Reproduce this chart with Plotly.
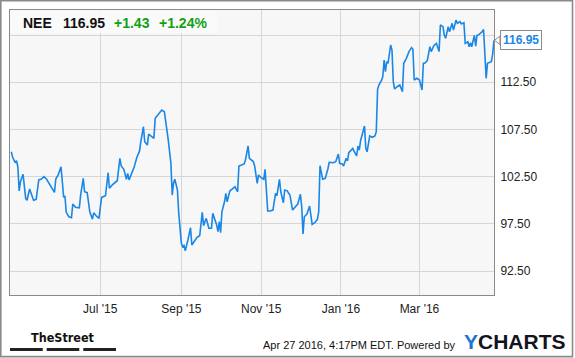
import plotly.graph_objects as go

# ---------------- data ----------------
dates = [
    "2015-04-24", "2015-04-25", "2015-04-27", "2015-04-28", "2015-04-29", "2015-04-30",
    "2015-05-01", "2015-05-03", "2015-05-05", "2015-05-06", "2015-05-08", "2015-05-10",
    "2015-05-11", "2015-05-13", "2015-05-15", "2015-05-17", "2015-05-19", "2015-05-21",
    "2015-05-23", "2015-05-26", "2015-05-27", "2015-05-28", "2015-05-30",
    "2015-06-01", "2015-06-03", "2015-06-04", "2015-06-05", "2015-06-07", "2015-06-09",
    "2015-06-10", "2015-06-12", "2015-06-15", "2015-06-16", "2015-06-18", "2015-06-19",
    "2015-06-21", "2015-06-23", "2015-06-25", "2015-06-26", "2015-06-28", "2015-06-30",
    "2015-07-02", "2015-07-03", "2015-07-05", "2015-07-07", "2015-07-08", "2015-07-10",
    "2015-07-12", "2015-07-14", "2015-07-16", "2015-07-17", "2015-07-19", "2015-07-21",
    "2015-07-22", "2015-07-23", "2015-07-25", "2015-07-27", "2015-07-29", "2015-07-31",
    "2015-08-01", "2015-08-03", "2015-08-04", "2015-08-06", "2015-08-07", "2015-08-09",
    "2015-08-11", "2015-08-12", "2015-08-14", "2015-08-16", "2015-08-17", "2015-08-19",
    "2015-08-20", "2015-08-22", "2015-08-24", "2015-08-25", "2015-08-26", "2015-08-27",
    "2015-08-29", "2015-08-30",
    "2015-09-01", "2015-09-02", "2015-09-03", "2015-09-04", "2015-09-06", "2015-09-08",
    "2015-09-09", "2015-09-10", "2015-09-12", "2015-09-13", "2015-09-15", "2015-09-17",
    "2015-09-18", "2015-09-19", "2015-09-20", "2015-09-22", "2015-09-24", "2015-09-25",
    "2015-09-27", "2015-09-28", "2015-09-29", "2015-09-30",
    "2015-10-01", "2015-10-02", "2015-10-04", "2015-10-05", "2015-10-06", "2015-10-08",
    "2015-10-10", "2015-10-12", "2015-10-14", "2015-10-15", "2015-10-17", "2015-10-19",
    "2015-10-20", "2015-10-22", "2015-10-23", "2015-10-25", "2015-10-26", "2015-10-27",
    "2015-10-29", "2015-10-30",
    "2015-11-01", "2015-11-03", "2015-11-04", "2015-11-06", "2015-11-08", "2015-11-10",
    "2015-11-12", "2015-11-13", "2015-11-15", "2015-11-16", "2015-11-18", "2015-11-19",
    "2015-11-21", "2015-11-22", "2015-11-23", "2015-11-25", "2015-11-27", "2015-11-29",
    "2015-12-01", "2015-12-02", "2015-12-03", "2015-12-04", "2015-12-06", "2015-12-08",
    "2015-12-09", "2015-12-10", "2015-12-12", "2015-12-14", "2015-12-15", "2015-12-16",
    "2015-12-18", "2015-12-20", "2015-12-22", "2015-12-23", "2015-12-26", "2015-12-28",
    "2015-12-30", "2015-12-31",
    "2016-01-02", "2016-01-03", "2016-01-05", "2016-01-06", "2016-01-07", "2016-01-09",
    "2016-01-10", "2016-01-11", "2016-01-13", "2016-01-14", "2016-01-15", "2016-01-16",
    "2016-01-19", "2016-01-20", "2016-01-21", "2016-01-23", "2016-01-25", "2016-01-27",
    "2016-01-28", "2016-01-29", "2016-01-30",
    "2016-02-01", "2016-02-02", "2016-02-03", "2016-02-04", "2016-02-05", "2016-02-06",
    "2016-02-08", "2016-02-09", "2016-02-10", "2016-02-11", "2016-02-13", "2016-02-15",
    "2016-02-17", "2016-02-18", "2016-02-20", "2016-02-22", "2016-02-24", "2016-02-25",
    "2016-02-26", "2016-02-28",
    "2016-03-01", "2016-03-03", "2016-03-04", "2016-03-05", "2016-03-07", "2016-03-09",
    "2016-03-10", "2016-03-12", "2016-03-14", "2016-03-16", "2016-03-17", "2016-03-19",
    "2016-03-20", "2016-03-21", "2016-03-23", "2016-03-24", "2016-03-26", "2016-03-27",
    "2016-03-29", "2016-03-30",
    "2016-04-01", "2016-04-02", "2016-04-04", "2016-04-05", "2016-04-07", "2016-04-08",
    "2016-04-09", "2016-04-10", "2016-04-12", "2016-04-13", "2016-04-14", "2016-04-15",
    "2016-04-18", "2016-04-19", "2016-04-20", "2016-04-21", "2016-04-22", "2016-04-24",
    "2016-04-25", "2016-04-26", "2016-04-27",
]

prices = [
    105.14, 104.55, 103.98, 104.19, 103.55, 100.98,
    101.96, 102.75, 100.20, 100.00, 101.20, 100.37,
    100.00, 100.10, 102.15, 102.25, 102.50, 102.22,
    101.80, 101.08, 100.84, 102.25, 102.75,
    103.55, 100.37, 100.40, 98.72, 98.25, 98.15,
    99.60, 99.25, 99.20, 100.55, 102.32, 100.90,
    100.80, 98.78, 98.00, 98.67, 98.33, 98.08,
    100.30, 100.37, 100.48, 102.92, 101.27, 101.60,
    101.86, 102.07, 104.45, 103.63, 103.28, 102.22,
    102.85, 102.15, 102.85, 103.55, 104.55, 105.20,
    106.20, 107.79, 106.20, 105.85, 107.00, 106.80,
    106.56, 108.68, 109.03, 109.35, 109.56, 109.38,
    108.50, 106.38, 103.91, 100.55, 101.80, 102.22,
    101.08, 98.61,
    95.43, 95.08, 95.20, 94.65, 95.79, 97.09,
    95.26, 95.43, 95.86, 96.07, 96.24, 98.72,
    97.30, 97.73, 98.08, 97.03, 97.03, 98.61,
    97.90, 97.38, 96.67, 97.73,
    96.56, 98.78, 99.84, 100.73, 99.84, 100.98,
    101.20, 101.43, 100.90, 103.63, 103.73, 103.84,
    104.26, 105.75, 104.45, 104.19, 104.10, 103.63,
    101.80, 102.68,
    102.39, 102.22, 103.28, 98.86, 98.86, 98.96,
    100.73, 100.45, 102.22, 100.90, 99.74, 101.08,
    101.00, 100.73, 100.55, 98.96, 99.31, 99.60,
    100.63, 99.31, 96.42, 98.25, 98.54, 99.39,
    98.43, 97.45, 97.62, 97.98, 98.78, 103.66,
    102.22, 102.32, 103.31, 104.02, 103.98, 104.08,
    104.90, 103.91,
    103.84, 103.63, 104.45, 104.16, 105.04, 105.43,
    105.50, 105.20, 104.69, 105.75, 105.32, 106.31,
    107.87, 105.50, 105.14, 106.81, 106.67, 106.81,
    107.26, 111.76, 112.21,
    112.70, 113.10, 114.86, 113.62, 114.68, 114.51,
    116.45, 115.92, 112.56, 111.79, 112.03, 112.21,
    111.50, 114.51, 115.04, 115.75, 116.17, 116.00,
    112.74, 112.92,
    112.74, 111.68, 114.51, 114.51, 114.79, 116.27,
    115.75, 116.38, 116.63, 115.75, 118.57, 118.39,
    117.51, 117.16, 118.39, 117.86, 118.75, 118.04,
    119.10, 118.75,
    118.92, 118.68, 118.82, 116.63, 116.80, 116.27,
    116.70, 116.27, 117.48, 116.34, 117.48, 117.51,
    117.86, 118.10, 115.57, 112.92, 114.51, 114.58,
    114.68, 115.52, 116.95,
]

ticker = "NEE"
last_price = "116.95"
change = "+1.43"
change_pct = "+1.24%"

y_tickvals = [92.5, 97.5, 102.5, 107.5, 112.5, 117.5]
y_ticktext = ["92.50", "97.50", "102.50", "107.50", "112.50", "117.50"]
x_tickvals = ["2015-07-01", "2015-09-01", "2015-11-01", "2016-01-01", "2016-03-01"]
x_ticktext = ["Jul '15", "Sep '15", "Nov '15", "Jan '16", "Mar '16"]

timestamp = "Apr 27 2016, 4:17PM EDT."

# ---------------- layout helpers (pixel -> paper) ----------------
W, H = 575, 358
PL, PR, PT, PB = 10, 494, 10, 295  # plot area in pixels


def px(x):
    return (x - PL) / (PR - PL)


def py(y):
    return (PB - y) / (PB - PT)


FONT = "Liberation Sans, Arial, Helvetica, sans-serif"
BLUE = "#1a87e6"
GREEN = "#14a014"

fig = go.Figure()
fig.add_trace(go.Scatter(
    x=dates, y=prices, mode="lines",
    line=dict(color=BLUE, width=1.6),
    hoverinfo="skip",
))

fig.update_layout(
    width=W, height=H,
    margin=dict(l=PL, r=W - PR, t=PT, b=H - PB),
    paper_bgcolor="white",
    plot_bgcolor="#f7f7f7",
    showlegend=False,
    font=dict(family=FONT, size=12, color="#222"),
    xaxis=dict(
        type="date",
        range=["2015-04-23", "2016-04-27"],
        tickvals=x_tickvals, ticktext=x_ticktext,
        showgrid=True, gridcolor="#d6d6d6", gridwidth=1,
        showline=True, linecolor="#8a8a8a", linewidth=1, mirror=True,
        ticks="outside", ticklen=3, tickcolor="rgba(0,0,0,0)",
        tickfont=dict(size=12, color="#222"),
        zeroline=False, fixedrange=True,
    ),
    yaxis=dict(
        side="right",
        range=[89.96, 120.16],
        tickvals=y_tickvals, ticktext=y_ticktext,
        showgrid=True, gridcolor="#d6d6d6", gridwidth=1,
        showline=True, linecolor="#8a8a8a", linewidth=1, mirror=True,
        ticks="outside", ticklen=3, tickcolor="rgba(0,0,0,0)",
        tickfont=dict(size=12, color="#222"),
        zeroline=False, fixedrange=True,
    ),
)

shapes = []
# header box
shapes.append(dict(type="rect", xref="paper", yref="paper",
                   x0=px(10.5), x1=px(217), y0=py(33), y1=py(10.5),
                   fillcolor="rgba(250,250,250,0.85)", line=dict(width=0), layer="above"))
# outer frame
shapes.append(dict(type="rect", xref="paper", yref="paper",
                   x0=px(0.8), x1=px(572.5), y0=py(356.6), y1=py(0.6),
                   line=dict(color="#8a8a8a", width=1.6), fillcolor="rgba(0,0,0,0)"))
# TheStreet bars
for a, b in [(10, 42.7), (46.7, 79.3), (83.3, 116)]:
    shapes.append(dict(type="rect", xref="paper", yref="paper",
                       x0=px(a), x1=px(b), y0=py(351), y1=py(348),
                       fillcolor="#222", line=dict(width=0)))
# pointer of last price callout
lp = prices[-1]
shapes.append(dict(type="path", xref="paper", yref="y",
                   path=f"M {px(494.5)},{lp} L {px(500)},{lp + 0.45} L {px(500)},{lp - 0.45} Z",
                   fillcolor="white", line=dict(color="#8a8a8a", width=1), layer="above"))
fig.update_layout(shapes=shapes)

ann = []
hy = py(23)
ann.append(dict(xref="paper", yref="paper", x=px(21), y=hy, xanchor="left", yanchor="middle",
                text=f"<b>{ticker}</b>", showarrow=False, font=dict(size=14, color="#111", family=FONT)))
ann.append(dict(xref="paper", yref="paper", x=px(60.5), y=hy, xanchor="left", yanchor="middle",
                text=f"<b>{last_price}</b>", showarrow=False, font=dict(size=14, color="#111", family=FONT)))
ann.append(dict(xref="paper", yref="paper", x=px(111.5), y=hy, xanchor="left", yanchor="middle",
                text=f"<b>{change}</b>", showarrow=False, font=dict(size=14, color=GREEN, family=FONT)))
ann.append(dict(xref="paper", yref="paper", x=px(156.5), y=hy, xanchor="left", yanchor="middle",
                text=f"<b>{change_pct}</b>", showarrow=False, font=dict(size=14, color=GREEN, family=FONT)))
# last price callout
ann.append(dict(xref="paper", yref="y", x=px(499.5), y=lp, xanchor="left", yanchor="middle",
                text=f"<b>{last_price}</b>", showarrow=False,
                font=dict(size=12, color=BLUE, family=FONT),
                bgcolor="white", bordercolor="#8a8a8a", borderwidth=1, borderpad=2))
# footer
ann.append(dict(xref="paper", yref="paper", x=px(63), y=py(337), xanchor="center", yanchor="middle",
                text="<b>TheStreet</b>", showarrow=False,
                font=dict(size=12.5, color="#111",
                          family="Liberation Sans Narrow, DejaVu Sans Condensed, Arial Narrow, sans-serif")))
ann.append(dict(xref="paper", yref="paper", x=px(457), y=py(345.5), xanchor="right", yanchor="middle",
                text=f"{timestamp} Powered by", showarrow=False,
                font=dict(size=11, color="#111", family=FONT)))
ann.append(dict(xref="paper", yref="paper", x=px(462), y=py(341), xanchor="left", yanchor="middle",
                text="<b><span style='color:#1c74d4'>Y</span><span style='color:#14141c'>CHARTS</span></b>",
                showarrow=False, font=dict(size=21, color="#14141c", family=FONT)))
fig.update_layout(annotations=ann)

fig.write_html("out.html", config={"displayModeBar": False})
